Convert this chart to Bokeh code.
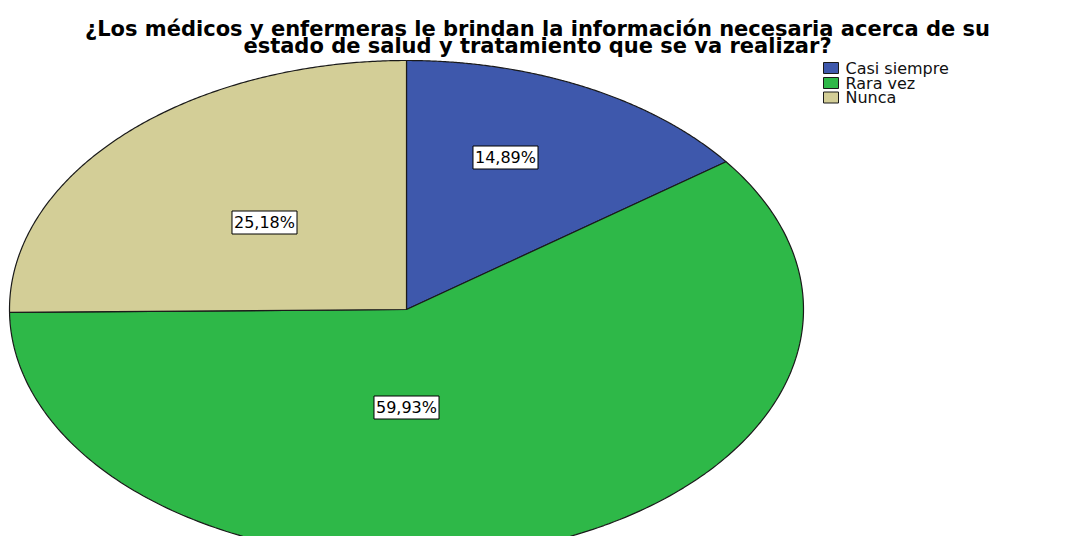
import numpy as np
from bokeh.plotting import figure
from bokeh.models import Range1d, Label
from bokeh.embed import file_html
from bokeh.resources import INLINE

# ---- data ----
categories = ["Casi siempre", "Rara vez", "Nunca"]
percents = [14.89, 59.93, 25.18]
colors = ["#3E58AC", "#2EB848", "#D3CE97"]
pct_labels = ["14,89%", "59,93%", "25,18%"]
title_lines = ["¿Los médicos y enfermeras le brindan la información necesaria acerca de su",
               "estado de salud y tratamiento que se va realizar?"]

# ---- layout (pixels in plot space) ----
W, H = 1049, 536
CX, CY = 406, 309        # pie centre, px from left / top
RX, RY = 397, 249        # ellipse radii, px

def dx(px):
    return (px - CX) / RX

def dy(py):
    return (CY - py) / RY

p = figure(width=W, height=H, output_backend="svg", toolbar_location=None,
           x_range=Range1d(dx(0), dx(W)), y_range=Range1d(dy(H), dy(0)),
           min_border=0, outline_line_color=None)
p.xaxis.visible = False
p.yaxis.visible = False
p.grid.visible = False

# wedges (clockwise from 12 o'clock)
total = sum(percents)
start = 90.0
for cat, pct, col in zip(categories, percents, colors):
    sweep = pct / total * 360.0
    ang = np.radians(np.linspace(start, start - sweep, 240))
    xs = np.concatenate([[0.0], np.cos(ang), [0.0]])
    ys = np.concatenate([[0.0], np.sin(ang), [0.0]])
    p.patch(xs, ys, fill_color=col, line_color="#1a1a1a", line_width=1.2)
    start -= sweep

# percentage labels
label_pos = [(505, 157), (406, 407), (264, 222)]
for txt, (lx, ly) in zip(pct_labels, label_pos):
    p.add_layout(Label(x=dx(lx), y=dy(ly), text=txt, text_align="center",
                       text_baseline="middle", text_font="DejaVu Sans",
                       text_font_size="16px", text_color="#000000",
                       background_fill_color="white", border_line_color="black",
                       border_line_width=1, padding=2))

# title
title_y = [28, 45]
for line, ty in zip(title_lines, title_y):
    p.add_layout(Label(x=dx(537), y=dy(ty), text=line, text_align="center",
                       text_baseline="alphabetic", text_font="DejaVu Sans",
                       text_font_style="bold", text_font_size="21px",
                       text_color="#000000"))

# legend (manual)
legend_rows = [67.5, 82.5, 97]
p.rect(x=[dx(830.5)] * len(categories), y=[dy(r) for r in legend_rows],
       width=15, height=11, width_units="screen", height_units="screen",
       fill_color=colors, line_color="#1a1a1a", line_width=1)
for cat, r in zip(categories, legend_rows):
    p.add_layout(Label(x=dx(845), y=dy(r), text=cat, text_align="left",
                       text_baseline="middle", text_font="DejaVu Sans",
                       text_font_size="16px", text_color="#111111"))

open("out.html", "w").write(file_html(p, INLINE))
